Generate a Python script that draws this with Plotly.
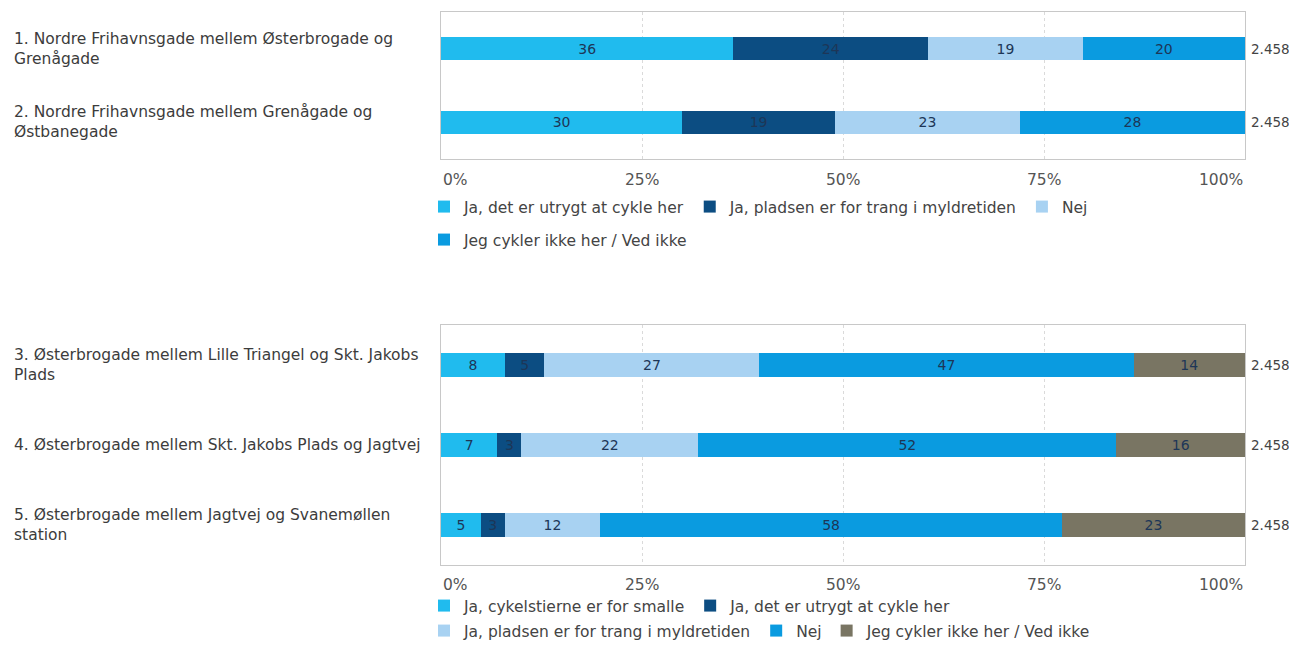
import plotly.graph_objects as go

# ---------- data ----------
top_categories = [
    "1. Nordre Frihavnsgade mellem Østerbrogade og<br>Grenågade",
    "2. Nordre Frihavnsgade mellem Grenågade og<br>Østbanegade",
]
top_series = [
    "Ja, det er utrygt at cykle her",
    "Ja, pladsen er for trang i myldretiden",
    "Nej",
    "Jeg cykler ikke her / Ved ikke",
]
top_values = [
    [36, 30],
    [24, 19],
    [19, 23],
    [20, 28],
]
top_n = ["2.458", "2.458"]

bot_categories = [
    "3. Østerbrogade mellem Lille Triangel og Skt. Jakobs<br>Plads",
    "4. Østerbrogade mellem Skt. Jakobs Plads og Jagtvej",
    "5. Østerbrogade mellem Jagtvej og Svanemøllen<br>station",
]
bot_series = [
    "Ja, cykelstierne er for smalle",
    "Ja, det er utrygt at cykle her",
    "Ja, pladsen er for trang i myldretiden",
    "Nej",
    "Jeg cykler ikke her / Ved ikke",
]
bot_values = [
    [8, 7, 5],
    [5, 3, 3],
    [27, 22, 12],
    [47, 52, 58],
    [14, 16, 23],
]
bot_n = ["2.458", "2.458", "2.458"]

x_ticks = [0, 25, 50, 75, 100]
x_ticklabels = ["0%", "25%", "50%", "75%", "100%"]

# ---------- styles ----------
top_colors = ["#20BBEE", "#0C4D82", "#A8D2F2", "#0A9BE0"]
bot_colors = ["#20BBEE", "#0C4D82", "#A8D2F2", "#0A9BE0", "#797563"]
top_legends = ["legend", "legend", "legend", "legend2"]
bot_legends = ["legend3", "legend3", "legend4", "legend4", "legend4"]

FONT = "DejaVu Sans"
TXT = "#1D3657"
OFF = 8                      # page body margin
W, H = 1297 - 2 * OFF, 653 - 2 * OFF
L = 441 - OFF
PW = 1245 - 441
R = W - L - PW


def py(p):
    return 1 - (p - OFF) / H


def pxd(p):
    # page x -> x-domain fraction
    return (p - 441) / PW


fig = go.Figure()

for name, vals, col, lg in zip(top_series, top_values, top_colors, top_legends):
    fig.add_trace(go.Bar(
        y=top_categories, x=vals, orientation="h", name=name,
        marker=dict(color=col, line=dict(width=0)),
        text=vals, texttemplate="%{text}", textposition="inside",
        insidetextanchor="middle", textangle=0, constraintext="none",
        textfont=dict(family=FONT, size=14, color=TXT),
        xaxis="x", yaxis="y", width=0.31, legend=lg, hoverinfo="skip",
    ))

for name, vals, col, lg in zip(bot_series, bot_values, bot_colors, bot_legends):
    fig.add_trace(go.Bar(
        y=bot_categories, x=vals, orientation="h", name=name,
        marker=dict(color=col, line=dict(width=0)),
        text=vals, texttemplate="%{text}", textposition="inside",
        insidetextanchor="middle", textangle=0, constraintext="none",
        textfont=dict(family=FONT, size=14, color=TXT),
        xaxis="x2", yaxis="y2", width=0.29, legend=lg, hoverinfo="skip",
    ))

xaxis_common = dict(
    range=[0, 100], tickvals=x_ticks, showticklabels=False,
    showgrid=True, gridcolor="#DADADA", griddash="dot", gridwidth=1,
    showline=True, linecolor="#C8C8C8", linewidth=1, mirror=True,
    zeroline=False, ticks="", fixedrange=True,
)
yaxis_common = dict(
    showticklabels=False, showgrid=False, zeroline=False,
    showline=True, linecolor="#C8C8C8", linewidth=1, mirror=True,
    autorange="reversed", fixedrange=True, type="category",
)

LABEL_FONT = dict(family=FONT, size=15.5, color="#3C3C3C")
N_FONT = dict(family=FONT, size=13.5, color="#444444")
TICK_FONT = dict(family=FONT, size=15.5, color="#555555")

annotations = []
for ax, cats, ns in (("", top_categories, top_n), ("2", bot_categories, bot_n)):
    for cat, n in zip(cats, ns):
        annotations.append(dict(xref="x%s domain" % ax, yref="y" + ax, x=pxd(12), y=cat,
                                text=cat, showarrow=False, xanchor="left", yanchor="middle",
                                align="left", font=LABEL_FONT))
        annotations.append(dict(xref="x%s domain" % ax, yref="y" + ax, x=1, xshift=4, y=cat,
                                text=n, showarrow=False, xanchor="left", yanchor="middle",
                                font=N_FONT))

for ax, shift in (("", -21), ("2", -20)):
    for i, (tv, tl) in enumerate(zip(x_ticks, x_ticklabels)):
        anchor = "left" if i == 0 else ("right" if i == len(x_ticks) - 1 else "center")
        annotations.append(dict(xref="x" + ax, yref="y%s domain" % ax, x=tv, y=0,
                                yshift=shift, text=tl, showarrow=False, xanchor=anchor,
                                yanchor="middle", font=TICK_FONT))

leg_common = dict(orientation="h", xref="container", yref="container", xanchor="left",
                  yanchor="middle", bgcolor="rgba(0,0,0,0)",
                  font=dict(family=FONT, size=15.5, color="#444444"),
                  itemwidth=30, tracegroupgap=0, traceorder="normal")
lx = (424 - OFF) / W

fig.update_layout(
    width=W, height=H,
    margin=dict(l=L, r=R, t=0, b=0, autoexpand=False),
    paper_bgcolor="white", plot_bgcolor="white",
    barmode="stack", barnorm="percent",
    xaxis=dict(domain=[0, 1], anchor="y", **xaxis_common),
    yaxis=dict(domain=[py(159), py(12)], anchor="x", **yaxis_common),
    xaxis2=dict(domain=[0, 1], anchor="y2", **xaxis_common),
    yaxis2=dict(domain=[py(565), py(325)], anchor="x2", **yaxis_common),
    annotations=annotations,
    legend=dict(x=lx, y=py(207), **leg_common),
    legend2=dict(x=lx, y=py(240), **leg_common),
    legend3=dict(x=lx, y=py(606), **leg_common),
    legend4=dict(x=lx, y=py(631), **leg_common),
    showlegend=True,
)

fig.write_html("out.html")
